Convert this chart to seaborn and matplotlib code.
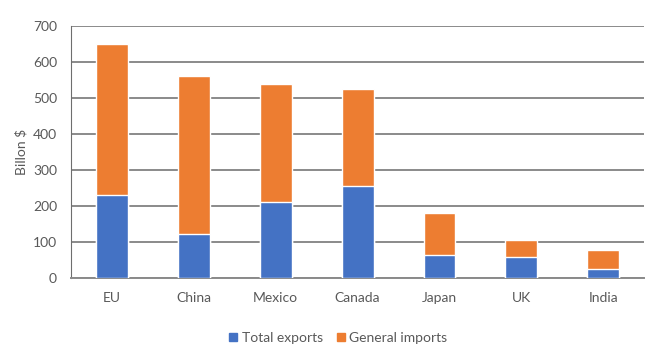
import numpy as np
import pandas as pd
import matplotlib
matplotlib.use("Agg")
import matplotlib.pyplot as plt
import seaborn as sns
from matplotlib.patches import Patch

countries = ["EU", "China", "Mexico", "Canada", "Japan", "UK", "India"]
total_exports = [231, 122, 212, 254, 63, 58, 26]
general_imports = [418, 438, 326, 272, 118, 48, 51]

BLUE = "#4472C4"
ORANGE = "#ED7D31"
TXT = "#595959"
GRID = "#8a8a8a"

df = pd.DataFrame({
    "country": countries,
    "exports": total_exports,
    "imports": general_imports,
})
df["total"] = df["exports"] + df["imports"]

sns.set_theme(style="white")
plt.rcParams["font.family"] = ["Lato", "DejaVu Sans"]

fig = plt.figure(figsize=(6.69, 3.6), dpi=100)
ax = fig.add_axes([0.106, 0.228, 0.857, 0.700])

# stacked: draw totals (orange) then exports (blue) over them
sns.barplot(data=df, x="country", y="total", color=ORANGE, width=0.39,
            saturation=1, ax=ax, zorder=3)
sns.barplot(data=df, x="country", y="exports", color=BLUE, width=0.39,
            saturation=1, ax=ax, zorder=4)

ax.set_ylim(0, 700)
ax.set_xlim(-0.5, len(countries) - 0.5)
ax.set_yticks(np.arange(0, 701, 100))
ax.yaxis.grid(True, color=GRID, linewidth=1.4, zorder=0)
ax.set_axisbelow(True)
for s in ["top", "right"]:
    ax.spines[s].set_visible(False)
ax.spines["left"].set_color("#6e6e6e")
ax.spines["left"].set_linewidth(0.8)
ax.spines["bottom"].set_color(GRID)
ax.spines["bottom"].set_linewidth(1.4)

ax.set_xlabel("")
ax.set_ylabel("Billon $", fontsize=10, color=TXT, labelpad=4)
ax.tick_params(axis="y", length=3, width=1.2, color=GRID, direction="out",
               labelsize=10, labelcolor=TXT, pad=7)
ax.tick_params(axis="x", length=0, labelsize=10, labelcolor=TXT, pad=10)
ax.set_xticks(np.arange(-0.5, len(countries), 1), minor=True)
ax.tick_params(axis="x", which="minor", length=4, width=1.2, color=GRID,
               direction="out")

handles = [Patch(color=BLUE, label="Total exports"),
           Patch(color=ORANGE, label="General imports")]
leg = ax.legend(handles=handles, loc="center", bbox_to_anchor=(0.466, -0.238),
                ncol=2, frameon=False, fontsize=10, handlelength=0.6,
                handleheight=0.6, handletextpad=0.3, columnspacing=1.0)
for t in leg.get_texts():
    t.set_color(TXT)

fig.savefig("out.png", dpi=100)
